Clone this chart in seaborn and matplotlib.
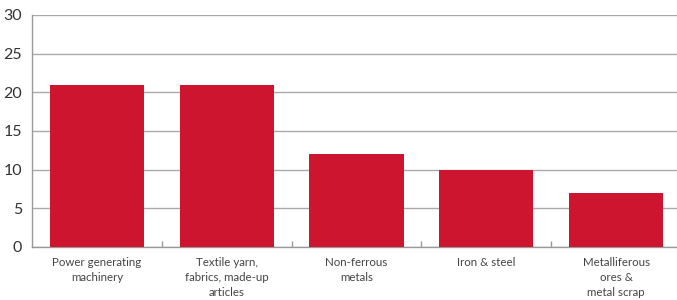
import matplotlib
matplotlib.use("Agg")
import matplotlib.pyplot as plt
import seaborn as sns
import pandas as pd
import numpy as np

categories = ["Power generating\nmachinery", "Textile yarn,\nfabrics, made-up\narticles",
              "Non-ferrous\nmetals", "Iron & steel", "Metalliferous\nores &\nmetal scrap"]
values = [21, 21, 12, 10, 7]
yticks = [0, 5, 10, 15, 20, 25, 30]

df = pd.DataFrame({"cat": categories, "val": values})

sns.set_theme(style="white")
plt.rcParams['font.family'] = ['Lato', 'DejaVu Sans']

fig = plt.figure(figsize=(6.77, 3.0), dpi=100)
ax = fig.add_axes([32/677, 53/300, 649/677, 232/300])

sns.barplot(data=df, x="cat", y="val", color="#CD1530", saturation=1, width=0.725,
            linewidth=0, edgecolor="none", ax=ax, zorder=3)

ax.set_xlim(-0.5, 4.5)
ax.set_ylim(0, 30)
ax.set_yticks(yticks)
ax.set_yticklabels([str(v) for v in yticks], fontsize=11.5, color="#333333")
ax.yaxis.grid(True, color="#AAAAAA", linewidth=1, zorder=0)
ax.set_axisbelow(True)
ax.tick_params(axis="y", length=0, pad=7)
ax.tick_params(axis="x", which="major", length=0, pad=7, labelsize=8.3, labelcolor="#444444")
for lbl in ax.get_xticklabels():
    lbl.set_linespacing(1.45)
ax.set_xticks(np.arange(0.5, 4.5, 1), minor=True)
ax.tick_params(axis="x", which="minor", bottom=True, direction="in", length=4, color="#999999", width=1)
ax.set_xlabel("")
ax.set_ylabel("")
for s in ["top", "right"]:
    ax.spines[s].set_visible(False)
for s in ["left", "bottom"]:
    ax.spines[s].set_color("#999999")
    ax.spines[s].set_linewidth(1)

fig.savefig("out.png", dpi=100)
